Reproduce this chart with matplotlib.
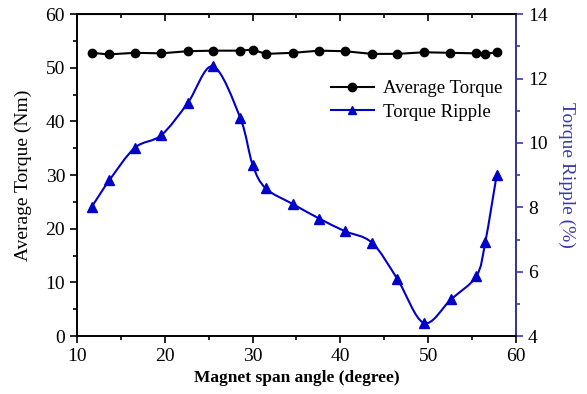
import numpy as np
import matplotlib.pyplot as plt
from matplotlib.path import Path
from matplotlib.patches import PathPatch
from matplotlib.ticker import MultipleLocator

# data
angle_torque = [11.7, 13.6, 16.6, 19.6, 22.6, 25.5, 28.6, 30.0, 31.5, 34.6,
                37.6, 40.5, 43.6, 46.5, 49.5, 52.5, 55.5, 56.5, 57.8]
avg_torque = [52.8, 52.5, 52.8, 52.7, 53.1, 53.2, 53.2, 53.4, 52.6, 52.8,
              53.2, 53.1, 52.6, 52.6, 52.9, 52.8, 52.7, 52.6, 52.9]

angle_ripple = [11.7, 13.7, 16.6, 19.6, 22.6, 25.5, 28.6, 30.0, 31.5, 34.6,
                37.6, 40.5, 43.6, 46.5, 49.5, 52.6, 55.5, 56.5, 57.8]
torque_ripple = [8.02, 8.84, 9.85, 10.24, 11.23, 12.38, 10.78, 9.33, 8.59, 8.10,
                 7.65, 7.26, 6.90, 5.77, 4.41, 5.14, 5.87, 6.91, 9.0]

BLUE = '#0000c8'
AXBLUE = '#3c3ca8'

plt.rcParams['font.family'] = ['Liberation Serif', 'DejaVu Serif']
plt.rcParams['font.size'] = 14


def smooth_path(xs, ys):
    """Catmull-Rom curve through the points, as cubic bezier path."""
    xs = np.asarray(xs, float)
    ys = np.asarray(ys, float)
    pts = np.column_stack([xs, ys])
    verts = [pts[0]]
    codes = [Path.MOVETO]
    n = len(pts)
    for i in range(n - 1):
        p0 = pts[i - 1] if i > 0 else pts[i]
        p1 = pts[i]
        p2 = pts[i + 1]
        p3 = pts[i + 2] if i + 2 < n else pts[i + 1]
        c1 = p1 + (p2 - p0) / 6.0
        c2 = p2 - (p3 - p1) / 6.0
        verts += [c1, c2, p2]
        codes += [Path.CURVE4] * 3
    return Path(verts, codes)


fig = plt.figure(figsize=(5.87, 3.94), dpi=100)
ax = fig.add_axes([0.131, 0.147, 0.748, 0.817])
ax2 = ax.twinx()

ax.plot(angle_torque, avg_torque, color='black', marker='o', markersize=6,
        linewidth=1.5, label='Average Torque')

ax2.add_patch(PathPatch(smooth_path(angle_ripple, torque_ripple), facecolor='none',
                        edgecolor=BLUE, linewidth=1.5))
ax2.plot(angle_ripple, torque_ripple, linestyle='none', color=BLUE, marker='^',
         markersize=7)
# legend entry for the ripple
ax.plot([], [], color=BLUE, marker='^', markersize=6, linewidth=1.5,
        label='Torque Ripple')

ax.set_xlim(10, 60)
ax.set_ylim(0, 60)
ax2.set_ylim(4, 14)

ax.xaxis.set_major_locator(MultipleLocator(10))
ax.xaxis.set_minor_locator(MultipleLocator(5))
ax.yaxis.set_major_locator(MultipleLocator(10))
ax.yaxis.set_minor_locator(MultipleLocator(5))
ax2.yaxis.set_major_locator(MultipleLocator(2))
ax2.yaxis.set_minor_locator(MultipleLocator(1))

ax.tick_params(which='major', direction='out', length=5, width=1.2)
ax.tick_params(which='minor', direction='out', length=3, width=1.2)
ax2.tick_params(which='major', direction='out', length=5, width=1.2, color=AXBLUE)
ax2.tick_params(which='minor', direction='out', length=3, width=1.2, color=AXBLUE)

top = ax.secondary_xaxis('top')
top.xaxis.set_major_locator(MultipleLocator(10))
top.xaxis.set_minor_locator(MultipleLocator(5))
top.tick_params(which='major', direction='in', length=5, width=1.2, labeltop=False)
top.tick_params(which='minor', direction='in', length=3, width=1.2)

for s in ax.spines.values():
    s.set_linewidth(1.2)
for s in ax2.spines.values():
    s.set_linewidth(1.2)
ax2.spines['right'].set_color(AXBLUE)

ax.set_xlabel('Magnet span angle (degree)', fontweight='bold', fontsize=12.5)
ax.set_ylabel('Average Torque (Nm)', fontsize=14, labelpad=10)
ax2.set_ylabel('Torque Ripple (%)', color=AXBLUE, rotation=270, labelpad=20,
               fontsize=14)

ax.legend(loc='upper right', bbox_to_anchor=(0.995, 0.83), frameon=False,
          fontsize=13.5, handlelength=2.3, handletextpad=0.5,
          borderaxespad=0.2, labelspacing=0.35)

fig.savefig('out.png', dpi=100)
